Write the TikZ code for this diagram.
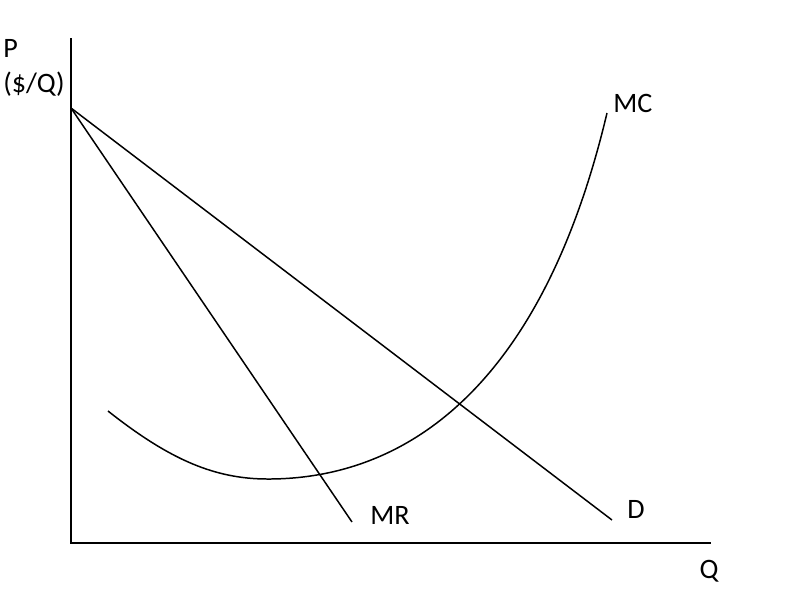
\documentclass[tikz,border=0pt]{standalone}
\usepackage{fontspec}
\setmainfont{Carlito}
\usetikzlibrary{positioning}

\begin{document}
\begin{tikzpicture}[
  x=0.02cm, y=-0.02cm,
  axis/.style={line width=1.1pt, black},
  curve/.style={line width=0.85pt, black},
  lbl/.style={font=\fontsize{16}{19}\selectfont, inner sep=0pt},
]
\useasboundingbox (0,0) rectangle (800,600);

%% Axes
\coordinate (top)    at (71,38);
\coordinate (origin) at (71,543);
\coordinate (right)  at (711,543);
\draw[axis] (top) -- (origin) -- (right);

%% Demand and marginal revenue
\coordinate (pmax) at (71,108);
\coordinate (dend) at (612,520);
\coordinate (mrend) at (352,522);
\draw[curve] (pmax) -- (dend);
\draw[curve] (pmax) -- (mrend);

%% Marginal cost
\coordinate (mcstart) at (108,411);
\coordinate (mcmin)   at (268,479);
\coordinate (mcend)   at (607,113);
\draw[curve] (mcstart) .. controls (170,460) and (215,479) .. (mcmin)
             .. controls (400,479) and (540,395) .. (mcend);

%% Labels
\node[lbl, anchor=west] (plbl) at (3,48) {P};
\node[lbl] (unitlbl) at (34,84) {(\$/Q)};
\node[lbl, anchor=west] (mclbl) at (613,103) {MC};
\node[lbl] (mrlbl) at (390,515) {MR};
\node[lbl] (dlbl) at (636,509) {D};
\node[lbl] (qlbl) at (709,571) {Q};

\end{tikzpicture}
\end{document}
